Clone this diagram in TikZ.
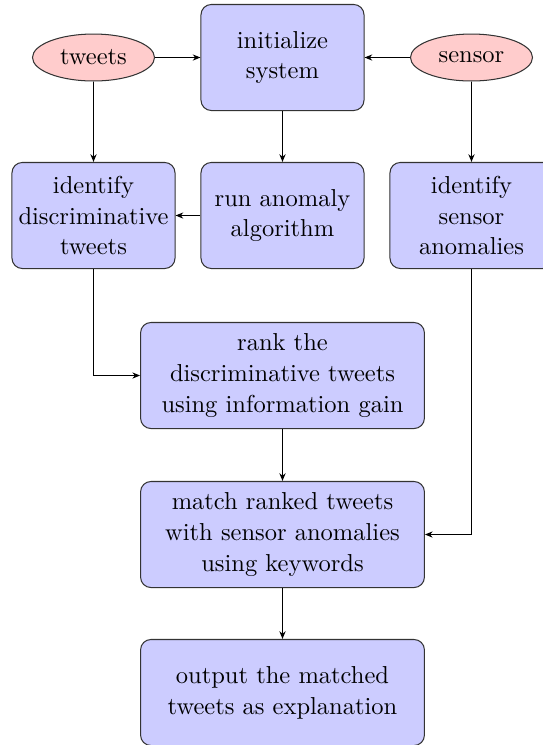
\documentclass[tikz,border=0pt]{standalone}
\usetikzlibrary{arrows.meta,shapes.geometric}
\begin{document}
\begin{tikzpicture}[x=0.3876pt,y=-0.3876pt,
  procbox/.style={draw=black!80,fill=blue!20,rounded corners=4pt,align=center,
    minimum width=63.2pt,minimum height=41.1pt,inner sep=1.5pt,font=\rmfamily\fontsize{9.5}{12}\selectfont},
  widebox/.style={procbox,minimum width=110pt},
  source/.style={draw=black!80,fill=red!20,ellipse,minimum width=47.3pt,minimum height=18.2pt,inner sep=0pt,font=\rmfamily\fontsize{9.5}{12}\selectfont},
  conn/.style={-{Stealth[length=3pt,width=2.4pt]},line width=0.4pt}]
\useasboundingbox (0,0) rectangle (543,745);
\node[source] (tweets) at (93.5,57.5) {tweets};
\node[procbox] (init) at (282.5,57.5) {initialize\\system};
\node[source] (sensor) at (471.5,57.5) {sensor};
\node[procbox] (idt) at (93.5,215.5) {identify\\discriminative\\tweets};
\node[procbox] (run) at (282.5,215.5) {run anomaly\\algorithm};
\node[procbox] (isa) at (471.5,215.5) {identify\\sensor\\anomalies};
\node[widebox] (rank) at (282.5,375.5) {rank the\\discriminative tweets\\using information gain};
\node[widebox] (match) at (282.5,534.5) {match ranked tweets\\with sensor anomalies\\using keywords};
\node[widebox] (out) at (282.5,692.5) {output the matched\\tweets as explanation};
\draw[conn] (tweets) -- (init);
\draw[conn] (sensor) -- (init);
\draw[conn] (tweets) -- (idt);
\draw[conn] (init) -- (run);
\draw[conn] (sensor) -- (isa);
\draw[conn] (run) -- (idt);
\draw[conn] (idt) |- (rank);
\draw[conn] (rank) -- (match);
\draw[conn] (isa) |- (match);
\draw[conn] (match) -- (out);
\end{tikzpicture}
\end{document}
